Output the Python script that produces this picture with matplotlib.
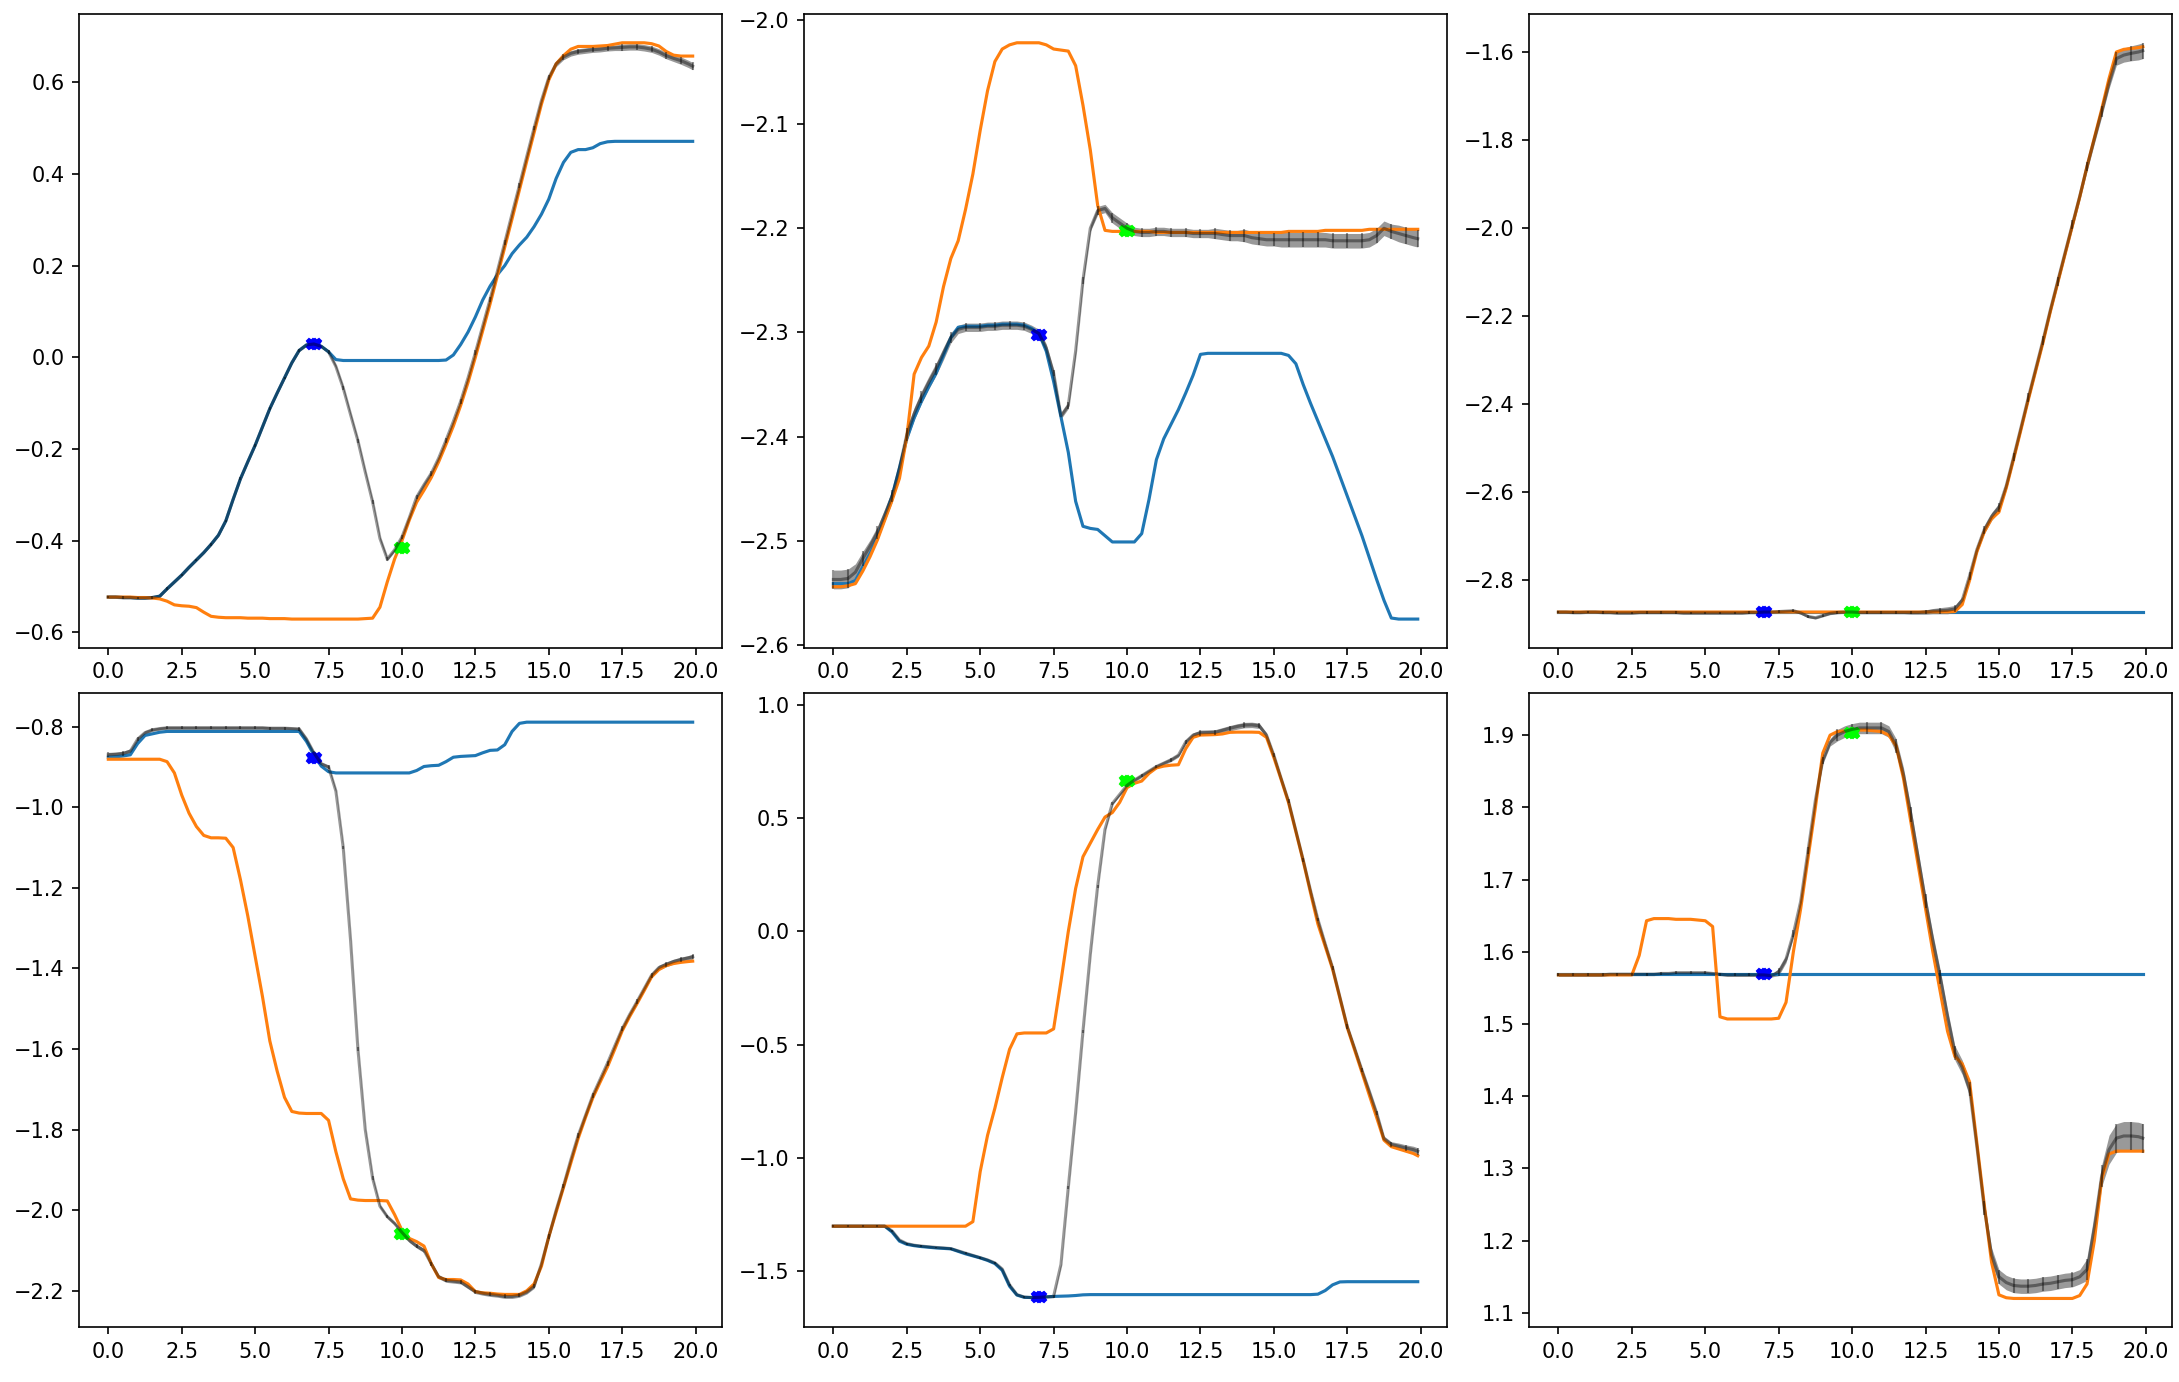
import numpy as np
import matplotlib
matplotlib.use("Agg")
import matplotlib.pyplot as plt

# time grid (0, 0.25, ..., 19.75, 19.9)
t = np.append(np.arange(0, 19.8, 0.25), 19.9)
obs_t = [7.0, 10.0]

# ---------------- panel 1 ----------------
p1_true = [-0.523, -0.523, -0.524, -0.524, -0.525, -0.525, -0.524, -0.521, -0.505, -0.490,
           -0.475, -0.458, -0.442, -0.426, -0.408, -0.388, -0.357, -0.310, -0.265, -0.228,
           -0.192, -0.152, -0.112, -0.078, -0.045, -0.012, 0.015, 0.027, 0.029, 0.024,
           0.012, -0.005, -0.007, -0.007, -0.007, -0.007, -0.007, -0.007, -0.007, -0.007,
           -0.007, -0.007, -0.007, -0.007, -0.007, -0.007, -0.006, 0.005, 0.028, 0.055,
           0.088, 0.125, 0.155, 0.180, 0.200, 0.226, 0.245, 0.262, 0.285, 0.312,
           0.345, 0.390, 0.425, 0.447, 0.453, 0.453, 0.457, 0.466, 0.470, 0.471,
           0.471, 0.471, 0.471, 0.471, 0.471, 0.471, 0.471, 0.471, 0.471, 0.471,
           0.471]
p1_pred = [-0.523, -0.523, -0.523, -0.523, -0.524, -0.524, -0.525, -0.527, -0.532, -0.540,
           -0.542, -0.543, -0.546, -0.556, -0.565, -0.567, -0.568, -0.568, -0.568, -0.569,
           -0.569, -0.569, -0.570, -0.570, -0.570, -0.571, -0.571, -0.571, -0.571, -0.571,
           -0.571, -0.571, -0.571, -0.571, -0.571, -0.570, -0.569, -0.545, -0.490, -0.440,
           -0.400, -0.355, -0.316, -0.290, -0.262, -0.228, -0.190, -0.150, -0.105, -0.055,
           0.000, 0.058, 0.116, 0.178, 0.240, 0.302, 0.365, 0.428, 0.490, 0.552,
           0.605, 0.640, 0.658, 0.672, 0.678, 0.678, 0.678, 0.679, 0.680, 0.683,
           0.686, 0.686, 0.686, 0.686, 0.684, 0.679, 0.667, 0.659, 0.657, 0.657,
           0.657]
p1_mean = [-0.523, -0.523, -0.524, -0.524, -0.525, -0.525, -0.524, -0.521, -0.505, -0.490,
           -0.475, -0.458, -0.442, -0.426, -0.408, -0.388, -0.357, -0.310, -0.265, -0.228,
           -0.192, -0.152, -0.112, -0.078, -0.045, -0.012, 0.015, 0.027, 0.029, 0.024,
           0.012, -0.020, -0.067, -0.125, -0.182, -0.250, -0.315, -0.395, -0.440, -0.420,
           -0.392, -0.350, -0.305, -0.278, -0.253, -0.220, -0.181, -0.140, -0.096, -0.045,
           0.010, 0.068, 0.126, 0.188, 0.250, 0.313, 0.375, 0.438, 0.500, 0.560,
           0.610, 0.640, 0.655, 0.663, 0.667, 0.669, 0.671, 0.672, 0.674, 0.675,
           0.676, 0.677, 0.677, 0.675, 0.672, 0.666, 0.658, 0.652, 0.647, 0.640,
           0.635]
p1_std = [0.003, 0.003, 0.003, 0.003, 0.003, 0.003, 0.003, 0.003, 0.003, 0.003,
          0.003, 0.003, 0.003, 0.003, 0.003, 0.003, 0.003, 0.003, 0.003, 0.003,
          0.003, 0.003, 0.003, 0.003, 0.003, 0.003, 0.003, 0.003, 0.003, 0.003,
          0.004, 0.004, 0.004, 0.004, 0.004, 0.004, 0.004, 0.004, 0.004, 0.004,
          0.005, 0.005, 0.005, 0.005, 0.005, 0.005, 0.005, 0.005, 0.005, 0.005,
          0.005, 0.005, 0.005, 0.005, 0.005, 0.005, 0.005, 0.005, 0.005, 0.005,
          0.006, 0.006, 0.006, 0.006, 0.006, 0.006, 0.006, 0.006, 0.006, 0.006,
          0.007, 0.007, 0.007, 0.007, 0.007, 0.007, 0.007, 0.007, 0.008, 0.008,
          0.008]
p1_obs = [0.028, -0.415]

# ---------------- panel 2 ----------------
p2_true = [-2.541, -2.541, -2.541, -2.538, -2.525, -2.512, -2.497, -2.478, -2.457, -2.430,
           -2.402, -2.382, -2.366, -2.352, -2.339, -2.322, -2.305, -2.295, -2.294, -2.294,
           -2.294, -2.293, -2.293, -2.292, -2.292, -2.292, -2.293, -2.296, -2.301, -2.318,
           -2.347, -2.381, -2.415, -2.462, -2.486, -2.488, -2.489, -2.495, -2.501, -2.501,
           -2.501, -2.501, -2.493, -2.460, -2.422, -2.402, -2.388, -2.374, -2.358, -2.341,
           -2.321, -2.320, -2.320, -2.320, -2.320, -2.320, -2.320, -2.320, -2.320, -2.320,
           -2.320, -2.320, -2.322, -2.330, -2.350, -2.368, -2.385, -2.402, -2.419, -2.438,
           -2.457, -2.476, -2.495, -2.516, -2.537, -2.557, -2.574, -2.575, -2.575, -2.575,
           -2.575]
p2_pred = [-2.544, -2.544, -2.543, -2.541, -2.529, -2.515, -2.499, -2.480, -2.461, -2.440,
           -2.400, -2.340, -2.324, -2.313, -2.290, -2.256, -2.229, -2.212, -2.182, -2.148,
           -2.106, -2.068, -2.040, -2.028, -2.024, -2.022, -2.022, -2.022, -2.022, -2.024,
           -2.028, -2.029, -2.030, -2.044, -2.082, -2.125, -2.178, -2.202, -2.203, -2.203,
           -2.203, -2.203, -2.203, -2.203, -2.204, -2.204, -2.204, -2.204, -2.204, -2.204,
           -2.204, -2.204, -2.204, -2.204, -2.204, -2.204, -2.204, -2.204, -2.204, -2.204,
           -2.204, -2.204, -2.203, -2.203, -2.203, -2.203, -2.203, -2.202, -2.202, -2.202,
           -2.202, -2.202, -2.202, -2.201, -2.201, -2.201, -2.201, -2.201, -2.201, -2.201,
           -2.201]
p2_mean = [-2.537, -2.537, -2.536, -2.530, -2.517, -2.505, -2.492, -2.475, -2.457, -2.430,
           -2.398, -2.378, -2.362, -2.348, -2.335, -2.320, -2.305, -2.297, -2.295, -2.295,
           -2.295, -2.294, -2.294, -2.293, -2.293, -2.293, -2.294, -2.297, -2.301, -2.315,
           -2.339, -2.380, -2.370, -2.318, -2.250, -2.200, -2.183, -2.181, -2.190, -2.195,
           -2.200, -2.203, -2.204, -2.204, -2.203, -2.203, -2.204, -2.204, -2.204, -2.205,
           -2.205, -2.205, -2.205, -2.206, -2.207, -2.207, -2.207, -2.209, -2.210, -2.211,
           -2.211, -2.211, -2.211, -2.211, -2.211, -2.211, -2.211, -2.211, -2.212, -2.212,
           -2.212, -2.212, -2.212, -2.211, -2.207, -2.200, -2.203, -2.205, -2.207, -2.209,
           -2.210]
p2_std = [0.009, 0.009, 0.009, 0.008, 0.007, 0.006, 0.006, 0.006, 0.006, 0.006,
          0.006, 0.006, 0.006, 0.006, 0.006, 0.006, 0.005, 0.004, 0.004, 0.004,
          0.004, 0.004, 0.004, 0.004, 0.004, 0.004, 0.004, 0.004, 0.004, 0.004,
          0.003, 0.003, 0.003, 0.003, 0.003, 0.003, 0.004, 0.004, 0.005, 0.005,
          0.005, 0.004, 0.004, 0.004, 0.004, 0.004, 0.004, 0.004, 0.004, 0.004,
          0.004, 0.004, 0.005, 0.005, 0.005, 0.005, 0.006, 0.006, 0.006, 0.006,
          0.006, 0.007, 0.007, 0.007, 0.007, 0.007, 0.007, 0.007, 0.007, 0.007,
          0.007, 0.007, 0.007, 0.007, 0.007, 0.007, 0.007, 0.008, 0.008, 0.008,
          0.008]
p2_obs = [-2.302, -2.203]

# ---------------- panel 3 ----------------
p3_true = [-2.872, -2.872, -2.872, -2.872, -2.872, -2.872, -2.872, -2.872, -2.872, -2.872,
           -2.872, -2.872, -2.872, -2.872, -2.872, -2.872, -2.872, -2.872, -2.872, -2.872,
           -2.872, -2.872, -2.872, -2.872, -2.872, -2.872, -2.872, -2.872, -2.872, -2.872,
           -2.872, -2.872, -2.872, -2.872, -2.872, -2.872, -2.872, -2.872, -2.872, -2.872,
           -2.872, -2.872, -2.872, -2.872, -2.872, -2.872, -2.872, -2.872, -2.872, -2.872,
           -2.872, -2.872, -2.872, -2.872, -2.872, -2.872, -2.872, -2.872, -2.872, -2.872,
           -2.872, -2.872, -2.872, -2.872, -2.872, -2.872, -2.872, -2.872, -2.872, -2.872,
           -2.872, -2.872, -2.872, -2.872, -2.872, -2.872, -2.872, -2.872, -2.872, -2.872,
           -2.872]
p3_pred = [-2.872, -2.872, -2.872, -2.872, -2.872, -2.872, -2.872, -2.872, -2.872, -2.872,
           -2.872, -2.872, -2.872, -2.872, -2.872, -2.872, -2.872, -2.872, -2.872, -2.872,
           -2.872, -2.872, -2.872, -2.872, -2.872, -2.872, -2.872, -2.872, -2.872, -2.872,
           -2.872, -2.872, -2.872, -2.872, -2.872, -2.872, -2.872, -2.872, -2.872, -2.872,
           -2.872, -2.872, -2.872, -2.872, -2.872, -2.872, -2.872, -2.872, -2.872, -2.872,
           -2.872, -2.872, -2.872, -2.872, -2.871, -2.855, -2.800, -2.735, -2.690, -2.660,
           -2.645, -2.590, -2.525, -2.458, -2.390, -2.325, -2.260, -2.190, -2.125, -2.060,
           -1.995, -1.930, -1.860, -1.795, -1.730, -1.660, -1.600, -1.594, -1.592, -1.590,
           -1.588]
p3_mean = [-2.872, -2.872, -2.873, -2.873, -2.872, -2.872, -2.873, -2.873, -2.874, -2.874,
           -2.874, -2.873, -2.873, -2.873, -2.873, -2.873, -2.873, -2.874, -2.874, -2.874,
           -2.874, -2.874, -2.874, -2.874, -2.874, -2.874, -2.873, -2.873, -2.872, -2.872,
           -2.871, -2.870, -2.869, -2.874, -2.882, -2.885, -2.880, -2.875, -2.873, -2.872,
           -2.872, -2.873, -2.873, -2.873, -2.873, -2.873, -2.873, -2.873, -2.873, -2.873,
           -2.872, -2.870, -2.869, -2.868, -2.865, -2.845, -2.790, -2.730, -2.685, -2.655,
           -2.635, -2.585, -2.520, -2.453, -2.385, -2.320, -2.255, -2.186, -2.121, -2.056,
           -1.992, -1.928, -1.860, -1.797, -1.735, -1.670, -1.615, -1.607, -1.603, -1.600,
           -1.597]
p3_std = [0.003, 0.003, 0.003, 0.003, 0.003, 0.003, 0.003, 0.003, 0.003, 0.003,
          0.003, 0.003, 0.003, 0.003, 0.003, 0.003, 0.003, 0.003, 0.003, 0.003,
          0.003, 0.003, 0.003, 0.003, 0.003, 0.003, 0.003, 0.003, 0.003, 0.003,
          0.003, 0.003, 0.003, 0.003, 0.003, 0.003, 0.003, 0.003, 0.003, 0.003,
          0.003, 0.003, 0.003, 0.003, 0.003, 0.003, 0.003, 0.003, 0.004, 0.004,
          0.005, 0.006, 0.007, 0.008, 0.008, 0.008, 0.009, 0.009, 0.009, 0.009,
          0.010, 0.010, 0.010, 0.010, 0.010, 0.010, 0.010, 0.010, 0.010, 0.010,
          0.010, 0.010, 0.011, 0.011, 0.012, 0.013, 0.015, 0.016, 0.017, 0.018,
          0.018]
p3_obs = [-2.872, -2.873]

# ---------------- panel 4 ----------------
p4_true = [-0.876, -0.875, -0.873, -0.870, -0.842, -0.822, -0.818, -0.814, -0.812, -0.812,
           -0.812, -0.812, -0.812, -0.812, -0.812, -0.812, -0.812, -0.812, -0.812, -0.812,
           -0.812, -0.812, -0.812, -0.812, -0.812, -0.812, -0.812, -0.837, -0.870, -0.898,
           -0.912, -0.915, -0.915, -0.915, -0.915, -0.915, -0.915, -0.915, -0.915, -0.915,
           -0.915, -0.915, -0.909, -0.899, -0.897, -0.896, -0.887, -0.876, -0.874, -0.873,
           -0.872, -0.865, -0.859, -0.858, -0.845, -0.812, -0.792, -0.789, -0.789, -0.789,
           -0.789, -0.789, -0.789, -0.789, -0.789, -0.789, -0.789, -0.789, -0.789, -0.789,
           -0.789, -0.789, -0.789, -0.789, -0.789, -0.789, -0.789, -0.789, -0.789, -0.789,
           -0.789]
p4_pred = [-0.881, -0.881, -0.881, -0.881, -0.881, -0.881, -0.881, -0.881, -0.887, -0.915,
           -0.970, -1.015, -1.048, -1.070, -1.076, -1.076, -1.077, -1.100, -1.180, -1.270,
           -1.370, -1.470, -1.580, -1.655, -1.720, -1.755, -1.759, -1.760, -1.760, -1.760,
           -1.777, -1.855, -1.922, -1.972, -1.975, -1.976, -1.976, -1.976, -1.977, -2.011,
           -2.050, -2.070, -2.078, -2.089, -2.133, -2.167, -2.172, -2.172, -2.173, -2.183,
           -2.202, -2.205, -2.206, -2.208, -2.209, -2.209, -2.209, -2.200, -2.183, -2.139,
           -2.066, -2.005, -1.944, -1.883, -1.822, -1.770, -1.721, -1.682, -1.644, -1.600,
           -1.555, -1.520, -1.488, -1.455, -1.421, -1.403, -1.393, -1.388, -1.385, -1.383,
           -1.382]
p4_mean = [-0.870, -0.869, -0.867, -0.861, -0.831, -0.815, -0.808, -0.805, -0.803, -0.803,
           -0.803, -0.803, -0.803, -0.803, -0.803, -0.803, -0.803, -0.803, -0.803, -0.803,
           -0.803, -0.803, -0.804, -0.804, -0.804, -0.805, -0.806, -0.831, -0.865, -0.892,
           -0.900, -0.960, -1.100, -1.330, -1.600, -1.800, -1.920, -1.990, -2.016, -2.033,
           -2.055, -2.075, -2.089, -2.100, -2.133, -2.165, -2.174, -2.176, -2.178, -2.190,
           -2.202, -2.206, -2.209, -2.211, -2.214, -2.214, -2.211, -2.203, -2.189, -2.133,
           -2.066, -2.000, -1.940, -1.875, -1.815, -1.765, -1.715, -1.675, -1.635, -1.592,
           -1.550, -1.515, -1.483, -1.450, -1.417, -1.398, -1.390, -1.383, -1.378, -1.374,
           -1.371]
p4_std = [0.006, 0.006, 0.006, 0.006, 0.005, 0.005, 0.004, 0.004, 0.004, 0.004,
          0.004, 0.004, 0.004, 0.004, 0.004, 0.004, 0.004, 0.004, 0.004, 0.004,
          0.004, 0.004, 0.004, 0.004, 0.004, 0.004, 0.004, 0.004, 0.004, 0.004,
          0.004, 0.004, 0.004, 0.004, 0.004, 0.004, 0.004, 0.004, 0.004, 0.004,
          0.005, 0.005, 0.005, 0.005, 0.005, 0.005, 0.005, 0.005, 0.005, 0.005,
          0.005, 0.005, 0.005, 0.005, 0.005, 0.005, 0.005, 0.005, 0.005, 0.005,
          0.006, 0.006, 0.006, 0.006, 0.006, 0.006, 0.006, 0.006, 0.006, 0.006,
          0.006, 0.006, 0.006, 0.006, 0.006, 0.006, 0.006, 0.006, 0.006, 0.006,
          0.006]
p4_obs = [-0.877, -2.060]

# ---------------- panel 5 ----------------
p5_true = [-1.301, -1.301, -1.301, -1.301, -1.301, -1.301, -1.301, -1.301, -1.327, -1.367,
           -1.381, -1.387, -1.391, -1.394, -1.397, -1.399, -1.401, -1.412, -1.423, -1.432,
           -1.441, -1.452, -1.466, -1.496, -1.566, -1.605, -1.615, -1.616, -1.615, -1.613,
           -1.611, -1.610, -1.609, -1.607, -1.604, -1.603, -1.603, -1.603, -1.603, -1.603,
           -1.603, -1.603, -1.603, -1.603, -1.603, -1.603, -1.603, -1.603, -1.603, -1.603,
           -1.603, -1.603, -1.603, -1.603, -1.603, -1.603, -1.603, -1.603, -1.603, -1.603,
           -1.603, -1.603, -1.603, -1.603, -1.603, -1.603, -1.601, -1.585, -1.560, -1.547,
           -1.546, -1.546, -1.546, -1.546, -1.546, -1.546, -1.546, -1.546, -1.546, -1.546,
           -1.546]
p5_pred = [-1.301, -1.301, -1.301, -1.301, -1.301, -1.301, -1.301, -1.301, -1.301, -1.301,
           -1.301, -1.301, -1.301, -1.301, -1.301, -1.301, -1.301, -1.301, -1.301, -1.281,
           -1.060, -0.900, -0.780, -0.645, -0.520, -0.452, -0.448, -0.448, -0.448, -0.448,
           -0.430, -0.220, 0.000, 0.190, 0.330, 0.390, 0.450, 0.505, 0.525, 0.570,
           0.635, 0.654, 0.664, 0.698, 0.722, 0.730, 0.734, 0.736, 0.807, 0.857,
           0.867, 0.868, 0.869, 0.872, 0.879, 0.880, 0.880, 0.880, 0.879, 0.857,
           0.768, 0.670, 0.569, 0.440, 0.311, 0.170, 0.033, -0.066, -0.166, -0.295,
           -0.424, -0.523, -0.622, -0.722, -0.821, -0.921, -0.950, -0.960, -0.970, -0.980,
           -0.990]
p5_mean = [-1.301, -1.301, -1.301, -1.301, -1.301, -1.301, -1.301, -1.301, -1.322, -1.362,
           -1.378, -1.385, -1.389, -1.392, -1.395, -1.397, -1.400, -1.410, -1.420, -1.430,
           -1.440, -1.450, -1.463, -1.490, -1.560, -1.603, -1.614, -1.616, -1.615, -1.613,
           -1.611, -1.470, -1.130, -0.800, -0.440, -0.100, 0.200, 0.450, 0.565, 0.605,
           0.645, 0.668, 0.688, 0.708, 0.728, 0.743, 0.758, 0.778, 0.837, 0.867,
           0.877, 0.878, 0.879, 0.888, 0.897, 0.905, 0.911, 0.912, 0.908, 0.867,
           0.778, 0.675, 0.575, 0.445, 0.315, 0.180, 0.053, -0.055, -0.160, -0.290,
           -0.420, -0.515, -0.612, -0.705, -0.801, -0.915, -0.940, -0.948, -0.956, -0.963,
           -0.970]
p5_std = [0.004, 0.004, 0.004, 0.004, 0.004, 0.004, 0.004, 0.004, 0.004, 0.004,
          0.004, 0.004, 0.004, 0.004, 0.004, 0.004, 0.004, 0.004, 0.004, 0.004,
          0.004, 0.004, 0.004, 0.004, 0.004, 0.004, 0.004, 0.004, 0.004, 0.004,
          0.006, 0.006, 0.006, 0.006, 0.006, 0.006, 0.006, 0.006, 0.006, 0.006,
          0.008, 0.008, 0.008, 0.008, 0.008, 0.008, 0.008, 0.008, 0.010, 0.010,
          0.012, 0.012, 0.012, 0.012, 0.012, 0.012, 0.012, 0.012, 0.012, 0.010,
          0.008, 0.008, 0.008, 0.008, 0.008, 0.008, 0.008, 0.008, 0.008, 0.008,
          0.010, 0.010, 0.010, 0.010, 0.010, 0.012, 0.012, 0.014, 0.014, 0.015,
          0.015]
p5_obs = [-1.615, 0.665]

# ---------------- panel 6 ----------------
p6_true = [1.569, 1.569, 1.569, 1.569, 1.569, 1.569, 1.569, 1.569, 1.569, 1.569,
           1.569, 1.569, 1.569, 1.569, 1.569, 1.569, 1.569, 1.569, 1.569, 1.569,
           1.569, 1.569, 1.569, 1.569, 1.569, 1.569, 1.569, 1.569, 1.569, 1.569,
           1.569, 1.569, 1.569, 1.569, 1.569, 1.569, 1.569, 1.569, 1.569, 1.569,
           1.569, 1.569, 1.569, 1.569, 1.569, 1.569, 1.569, 1.569, 1.569, 1.569,
           1.569, 1.569, 1.569, 1.569, 1.569, 1.569, 1.569, 1.569, 1.569, 1.569,
           1.569, 1.569, 1.569, 1.569, 1.569, 1.569, 1.569, 1.569, 1.569, 1.569,
           1.569, 1.569, 1.569, 1.569, 1.569, 1.569, 1.569, 1.569, 1.569, 1.569,
           1.569]
p6_pred = [1.568, 1.568, 1.568, 1.568, 1.568, 1.568, 1.568, 1.568, 1.568, 1.568,
           1.568, 1.595, 1.643, 1.646, 1.646, 1.646, 1.645, 1.645, 1.645, 1.644,
           1.643, 1.635, 1.510, 1.507, 1.507, 1.507, 1.507, 1.507, 1.507, 1.507,
           1.508, 1.530, 1.600, 1.660, 1.730, 1.800, 1.875, 1.900, 1.905, 1.906,
           1.907, 1.907, 1.907, 1.906, 1.905, 1.900, 1.885, 1.840, 1.780, 1.720,
           1.660, 1.600, 1.545, 1.490, 1.455, 1.445, 1.420, 1.335, 1.250, 1.170,
           1.125, 1.121, 1.120, 1.120, 1.120, 1.120, 1.120, 1.120, 1.120, 1.120,
           1.120, 1.124, 1.140, 1.200, 1.285, 1.320, 1.324, 1.324, 1.324, 1.324,
           1.324]
p6_mean = [1.568, 1.568, 1.568, 1.568, 1.568, 1.568, 1.568, 1.569, 1.569, 1.569,
           1.569, 1.569, 1.569, 1.569, 1.570, 1.570, 1.571, 1.571, 1.571, 1.571,
           1.571, 1.570, 1.569, 1.568, 1.568, 1.568, 1.568, 1.568, 1.568, 1.567,
           1.572, 1.590, 1.625, 1.670, 1.740, 1.810, 1.865, 1.890, 1.900, 1.905,
           1.908, 1.910, 1.910, 1.910, 1.910, 1.905, 1.885, 1.845, 1.790, 1.730,
           1.670, 1.615, 1.565, 1.510, 1.460, 1.440, 1.410, 1.330, 1.245, 1.180,
           1.150, 1.142, 1.138, 1.137, 1.137, 1.138, 1.140, 1.141, 1.143, 1.145,
           1.146, 1.150, 1.160, 1.220, 1.290, 1.326, 1.342, 1.345, 1.345, 1.344,
           1.342]
p6_std = [0.002, 0.002, 0.002, 0.002, 0.002, 0.002, 0.002, 0.002, 0.002, 0.002,
          0.002, 0.002, 0.002, 0.002, 0.002, 0.002, 0.002, 0.002, 0.002, 0.002,
          0.002, 0.002, 0.002, 0.002, 0.002, 0.002, 0.002, 0.002, 0.002, 0.002,
          0.005, 0.005, 0.005, 0.005, 0.005, 0.005, 0.005, 0.005, 0.008, 0.008,
          0.008, 0.008, 0.008, 0.008, 0.008, 0.008, 0.010, 0.010, 0.010, 0.010,
          0.010, 0.010, 0.010, 0.010, 0.010, 0.010, 0.010, 0.010, 0.010, 0.010,
          0.010, 0.010, 0.010, 0.010, 0.010, 0.010, 0.010, 0.010, 0.010, 0.010,
          0.010, 0.010, 0.015, 0.015, 0.015, 0.020, 0.020, 0.020, 0.020, 0.020,
          0.020]
p6_obs = [1.569, 1.903]

panels = [
    (p1_true, p1_pred, p1_mean, p1_std, p1_obs),
    (p2_true, p2_pred, p2_mean, p2_std, p2_obs),
    (p3_true, p3_pred, p3_mean, p3_std, p3_obs),
    (p4_true, p4_pred, p4_mean, p4_std, p4_obs),
    (p5_true, p5_pred, p5_mean, p5_std, p5_obs),
    (p6_true, p6_pred, p6_mean, p6_std, p6_obs),
]

fig, axes = plt.subplots(2, 3, figsize=(2179 / 150, 1382 / 150), dpi=150)
fig.subplots_adjust(left=0.0363, right=0.9968, top=0.9899, bottom=0.0396,
                    wspace=0.128, hspace=0.0717)

for ax, (tr, pr, mu, sd, ob) in zip(axes.flat, panels):
    tr = np.asarray(tr); pr = np.asarray(pr)
    mu = np.asarray(mu); sd = np.asarray(sd)
    ax.plot(t, tr, color="#1f77b4", lw=1.5)
    ax.plot(t, pr, color="#ff7f0e", lw=1.5)
    ax.fill_between(t, mu - sd, mu + sd, color="k", alpha=0.4, lw=0)
    ax.errorbar(t, mu, yerr=sd, color="k", alpha=0.4, lw=1.5,
                elinewidth=1.0, errorevery=2)
    ax.plot([obs_t[0] - 0.08, obs_t[0] + 0.08], [ob[0], ob[0]], "X",
            color="blue", ms=5, ls="none")
    ax.plot([obs_t[1] - 0.08, obs_t[1] + 0.08], [ob[1], ob[1]], "X",
            color="lime", ms=5, ls="none")
    ax.set_xticks([0, 2.5, 5, 7.5, 10, 12.5, 15, 17.5, 20])

fig.savefig("out.png", dpi=150)
